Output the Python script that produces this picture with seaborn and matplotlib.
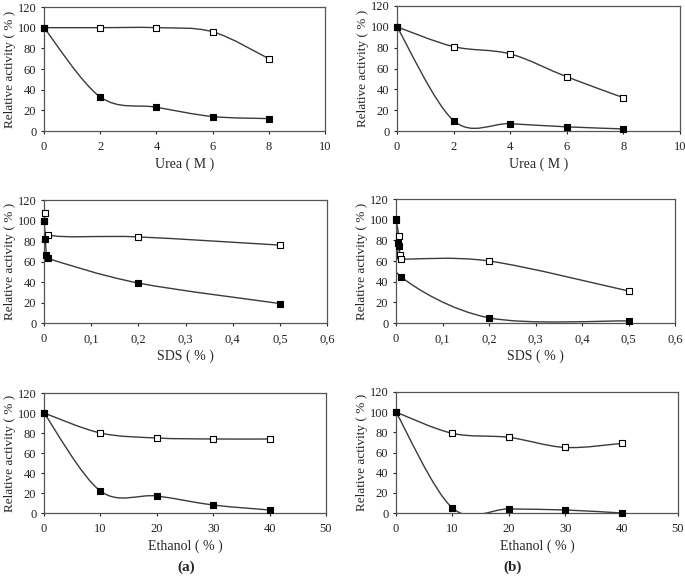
import numpy as np
import pandas as pd
import matplotlib
matplotlib.use("Agg")
import matplotlib.pyplot as plt
from matplotlib.path import Path
from matplotlib.patches import PathPatch
from matplotlib.ticker import FuncFormatter
import seaborn as sns

# Urea (M)
urea_x = [0, 2, 4, 6, 8]
urea_a_open = [100, 100, 100, 96, 70]
urea_a_filled = [100, 33, 23, 14, 12]
urea_b_open = [100, 81, 74, 52, 32]
urea_b_filled = [100, 10, 7, 4, 2]

# SDS (%)
sds_a_open_x = [0, 0.003, 0.008, 0.2, 0.5]
sds_a_open = [100, 107, 86, 84, 76]
sds_a_filled_x = [0, 0.003, 0.005, 0.008, 0.2, 0.5]
sds_a_filled = [100, 82, 66, 63, 39, 19]
sds_b_open_x = [0, 0.006, 0.008, 0.01, 0.2, 0.5]
sds_b_open = [100, 84, 66, 62, 60, 31]
sds_b_filled_x = [0, 0.004, 0.007, 0.01, 0.2, 0.5]
sds_b_filled = [101, 77, 75, 45, 5, 2]

# Ethanol (%)
eth_x = [0, 10, 20, 30, 40]
eth_a_open = [100, 80, 75, 74, 74]
eth_a_filled = [100, 22, 17, 8, 3]
eth_b_open = [100, 79, 75, 65, 69]
eth_b_filled = [100, 5, 4, 3, 0]

LINE = "#3a3a3a"


def smooth_path(x, y):
    """Excel-like smoothed line: Bezier segments with Catmull-Rom control points."""
    p = np.column_stack([x, y]).astype(float)
    n = len(p)
    verts = [p[0]]
    codes = [Path.MOVETO]
    for i in range(n - 1):
        p0 = p[i - 1] if i > 0 else p[i]
        p3 = p[i + 2] if i + 2 < n else p[i + 1]
        c1 = p[i] + (p[i + 1] - p0) / 6.0
        c2 = p[i + 1] - (p3 - p[i]) / 6.0
        verts += [c1, c2, p[i + 1]]
        codes += [Path.CURVE4] * 3
    return Path(verts, codes)


def draw_series(ax, x, y, filled):
    ax.add_patch(PathPatch(smooth_path(x, y), facecolor="none",
                           edgecolor=LINE, lw=1.0, zorder=2))
    df = pd.DataFrame({"x": x, "y": y})
    sns.scatterplot(data=df, x="x", y="y", ax=ax, marker="s", s=13,
                    color="black" if filled else "white",
                    edgecolor="black", linewidth=0.8, zorder=3, clip_on=False)


sns.set_style("ticks")
plt.rcParams["font.family"] = ["Liberation Serif", "DejaVu Serif"]

fig = plt.figure(figsize=(6.85, 5.77), dpi=100)
H, W = 577.0, 685.0


def make_ax(l, t, r, b):
    return fig.add_axes([l / W, 1 - b / H, (r - l) / W, (b - t) / H])


panels = [
    # (left, top, right, bottom), series, xlim, xticks, xlabel
    ((44, 7, 325, 131), [(urea_x, urea_a_open, False), (urea_x, urea_a_filled, True)],
     10, np.arange(0, 11, 2), "Urea ( M )"),
    ((397, 6, 680, 131), [(urea_x, urea_b_open, False), (urea_x, urea_b_filled, True)],
     10, np.arange(0, 11, 2), "Urea ( M )"),
    ((44, 200, 327, 323), [(sds_a_open_x, sds_a_open, False), (sds_a_filled_x, sds_a_filled, True)],
     0.6, np.arange(0, 0.61, 0.1), "SDS ( % )"),
    ((396, 199, 675, 323), [(sds_b_open_x, sds_b_open, False), (sds_b_filled_x, sds_b_filled, True)],
     0.6, np.arange(0, 0.61, 0.1), "SDS ( % )"),
    ((44, 393, 326, 513), [(eth_x, eth_a_open, False), (eth_x, eth_a_filled, True)],
     50, np.arange(0, 51, 10), "Ethanol ( % )"),
    ((396, 392, 678, 513), [(eth_x, eth_b_open, False), (eth_x, eth_b_filled, True)],
     50, np.arange(0, 51, 10), "Ethanol ( % )"),
]

comma = FuncFormatter(lambda v, pos: "0" if abs(v) < 1e-9 else f"{v:.1f}".replace(".", ","))

for box, series, xmax, xticks, xlabel in panels:
    ax = make_ax(*box)
    for x, y, filled in series:
        draw_series(ax, x, y, filled)
    ax.set_xlim(0, xmax)
    ax.set_ylim(0, 120)
    ax.set_xticks(xticks)
    ax.set_yticks(np.arange(0, 121, 20))
    if xmax < 1:
        ax.xaxis.set_major_formatter(comma)
    ax.set_xlabel(xlabel, fontsize=10, labelpad=3)
    ax.set_ylabel("Relative activity ( % )", fontsize=9.5, labelpad=1)
    ax.tick_params(labelsize=9, length=2.5, width=0.8, colors="#222222")
    ax.tick_params(axis="y", pad=3)
    ax.tick_params(axis="x", pad=5)
    for sp in ax.spines.values():
        sp.set_visible(True)
        sp.set_color("#555555")
        sp.set_linewidth(0.9)

fig.text(186 / W, 1 - 567 / H, "(a)", fontsize=11, fontweight="bold", ha="center", va="center")
fig.text(513 / W, 1 - 567 / H, "(b)", fontsize=11, fontweight="bold", ha="center", va="center")

fig.savefig("out.png", dpi=100)
